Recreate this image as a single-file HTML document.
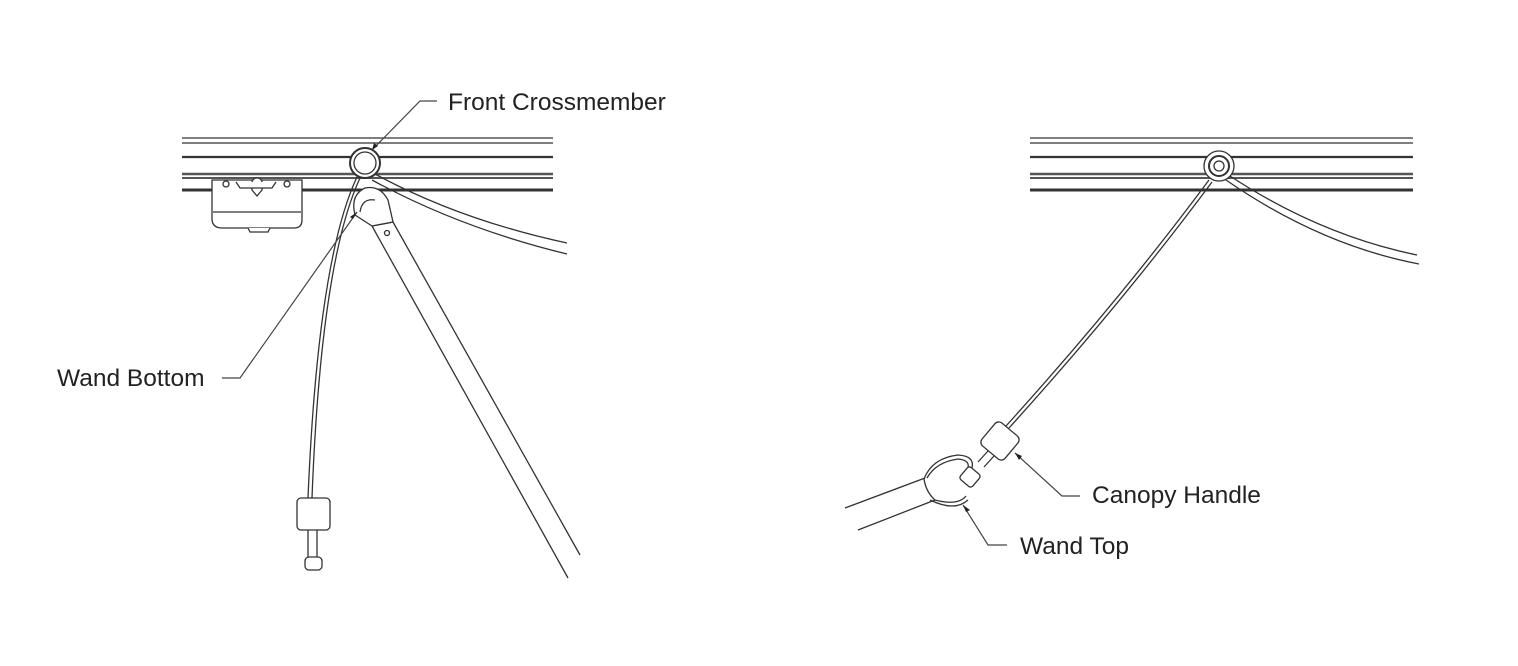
<!DOCTYPE html>
<html><head><meta charset="utf-8"><style>
html,body{margin:0;padding:0;background:#fff;}
svg{display:block}
text{font-family:"Liberation Sans",Arial,sans-serif;font-size:24.5px;fill:#222}
</style></head><body>
<svg width="1518" height="666" viewBox="0 0 1518 666" xmlns="http://www.w3.org/2000/svg" fill="none" stroke="#333" stroke-width="1.3">
<g>
<line x1="182" y1="138" x2="553" y2="138"/>
<line x1="182" y1="143" x2="553" y2="143"/>
<line x1="182" y1="157" x2="553" y2="157" stroke-width="2.2"/>
<line x1="182" y1="174" x2="553" y2="174" stroke-width="2.5" stroke="#555"/>
<line x1="182" y1="178" x2="553" y2="178" stroke-width="2" stroke="#555"/>
<line x1="182" y1="190" x2="553" y2="190" stroke-width="3"/>
</g>
<g fill="#fff">
<path d="M212 180 L212 220 Q213 228 222 228 L294 228 Q302 228 302 220 L302 180 Z"/>
<path d="M213 212 L301 212"/>
<path d="M248 228 L250 232 L268 232 L270 228"/>
<circle cx="226" cy="184" r="3"/><circle cx="287" cy="184" r="3"/>
<path d="M252 190 Q250 178 257 178 Q264 178 262 190 L257 196 Z"/>
<path d="M236 182 L240 188 L272 188 L276 182"/>
</g>
<g>
<line x1="372" y1="226" x2="568" y2="578"/>
<line x1="393" y1="222" x2="580" y2="555"/>
<line x1="372" y1="226" x2="393" y2="222"/>
<path d="M355 215 Q350 195 365 188 Q380 185 388 200 L393 222 L372 226 Z" fill="#fff"/>
<path d="M360 212 Q362 198 375 200" />
<circle cx="387" cy="233" r="2.5"/>
</g>
<path d="M375 174 Q460 220 567 243"/>
<path d="M372 180 Q460 228 567 254"/>
<circle cx="365" cy="163" r="15" fill="#fff" stroke-width="2"/>
<circle cx="365" cy="163" r="11"/>
<path d="M357 177 Q318 260 308 498"/>
<path d="M360 178 Q321 262 312 498"/>
<rect x="297" y="498" width="33" height="32" rx="4" fill="#fff"/>
<path d="M308 530 L308 557 M317 530 L317 557"/>
<rect x="305" y="557" width="17" height="13" rx="4" fill="#fff"/>
<g>
<line x1="1030" y1="138" x2="1413" y2="138"/>
<line x1="1030" y1="143" x2="1413" y2="143"/>
<line x1="1030" y1="157" x2="1413" y2="157" stroke-width="2.2"/>
<line x1="1030" y1="174" x2="1413" y2="174" stroke-width="2.5" stroke="#555"/>
<line x1="1030" y1="178" x2="1413" y2="178" stroke-width="2" stroke="#555"/>
<line x1="1030" y1="190" x2="1413" y2="190" stroke-width="3"/>
</g>
<path d="M1230 176 Q1320 235 1417 255"/>
<path d="M1226 180 Q1320 245 1419 264"/>
<circle cx="1219" cy="166" r="15" fill="#fff"/>
<circle cx="1219" cy="166" r="10" stroke-width="2"/>
<circle cx="1219" cy="166" r="5"/>
<path d="M1209 180 Q1120 300 1006 426"/>
<path d="M1212 182 Q1123 302 1009 428"/>
<!-- wand top -->
<line x1="845" y1="508" x2="925" y2="478"/>
<line x1="858" y1="530" x2="935" y2="500"/>
<path d="M924 479 Q932 458 958 455 Q975 456 972 468"/>
<path d="M927 478 Q936 462 958 459 Q970 460 968 468"/>
<path d="M924 479 Q926 492 935 500 Q958 506 966 496"/>
<path d="M930 500 Q955 512 968 500"/>
<!-- canopy handle stem -->
<path d="M978 462 L988 451 M984 467 L994 456"/>
<rect x="-15" y="-15" width="30" height="30" rx="5" fill="#fff" transform="translate(1000,441) rotate(40)"/>
<rect x="-8" y="-8" width="16" height="16" rx="3" fill="#fff" transform="translate(970,477) rotate(40)"/>
<g stroke="#444" stroke-width="1.2">
<path d="M437 101 L420 101 L372 150"/>
<path d="M222 378 L240 378 L357 212"/>
<path d="M1080 496 L1062 496 L1015 453"/>
<path d="M1007 545 L988 545 L963 505"/>
</g>
<g fill="#222" stroke="none">
<polygon points="372,150 374,143 378,146"/>
<polygon points="357,212 353,219 350,217"/>
<polygon points="1015,453 1022,456 1019,460"/>
<polygon points="963,505 966,512 970,510"/>
</g>
<g stroke="none">
<text x="448" y="110">Front Crossmember</text>
<text x="57" y="386">Wand Bottom</text>
<text x="1092" y="503">Canopy Handle</text>
<text x="1020" y="554">Wand Top</text>
</g>
</svg>
</body></html>
